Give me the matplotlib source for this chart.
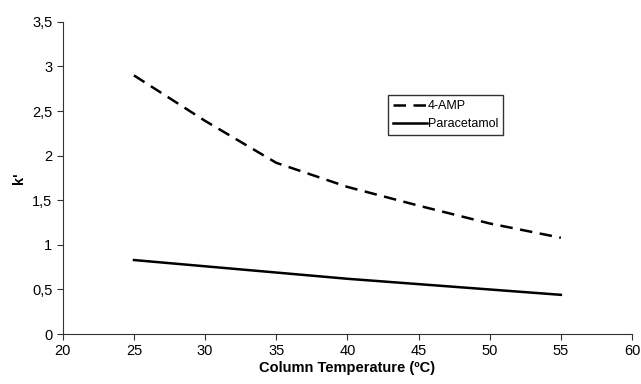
import matplotlib.pyplot as plt
from matplotlib.ticker import FuncFormatter

plt.rcParams['font.family'] = ['Liberation Sans', 'DejaVu Sans']

temperature = [25, 30, 35, 40, 45, 50, 55]
k_4amp = [2.90, 2.39, 1.92, 1.65, 1.44, 1.24, 1.08]
k_paracetamol = [0.83, 0.76, 0.69, 0.62, 0.56, 0.50, 0.44]

fig = plt.figure(figsize=(6.41, 3.84), dpi=100)
ax = fig.add_axes([0.098, 0.130, 0.888, 0.813])

ax.plot(temperature, k_4amp, color='black', lw=1.8, ls=(0, (5, 3)), label='4-AMP')
ax.plot(temperature, k_paracetamol, color='black', lw=1.8, label='Paracetamol')

ax.set_xlim(20, 60)
ax.set_ylim(0, 3.5)
ax.set_xticks(range(20, 61, 5))
ax.set_yticks([0, 0.5, 1, 1.5, 2, 2.5, 3, 3.5])
ax.yaxis.set_major_formatter(FuncFormatter(lambda v, p: f'{v:g}'.replace('.', ',')))

for s in ['top', 'right']:
    ax.spines[s].set_visible(False)
for s in ['left', 'bottom']:
    ax.spines[s].set_color('#333333')
ax.tick_params(direction='out', length=4, colors='#333333', labelsize=10.5, labelcolor='black')

ax.set_xlabel('Column Temperature (ºC)', fontweight='bold', fontsize=10.5, labelpad=2)
ax.set_ylabel("k'", fontweight='bold', fontsize=10.5, labelpad=4)

leg = ax.legend(loc='upper left', bbox_to_anchor=(0.56, 0.785), fontsize=9,
                frameon=True, fancybox=False, edgecolor='black', handlelength=2.7,
                handletextpad=0.1, borderpad=0.4, labelspacing=0.45)
leg.get_frame().set_linewidth(1.0)

fig.savefig('out.png', dpi=100)
